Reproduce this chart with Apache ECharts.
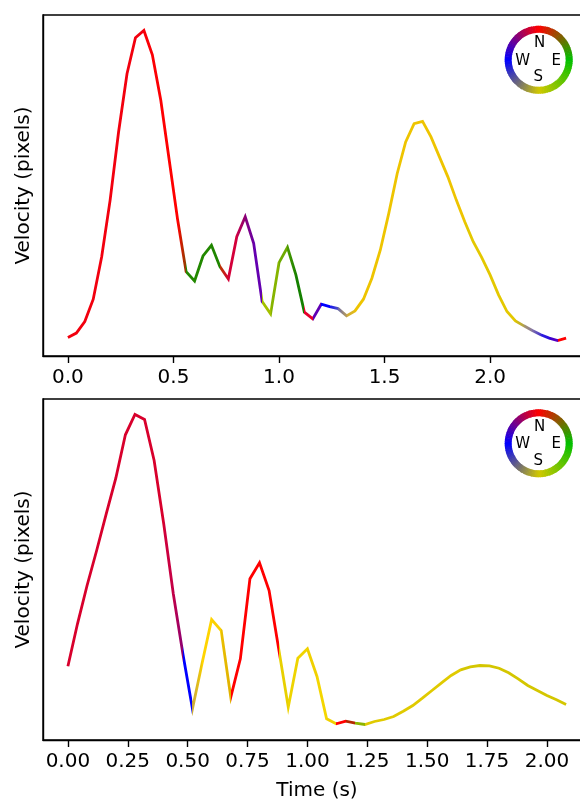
<!DOCTYPE html>
<html>
<head>
<meta charset="utf-8">
<script src="https://cdn.jsdelivr.net/npm/echarts@6.0.0/dist/echarts.min.js"></script>
<style>
html,body{margin:0;padding:0;background:#fff;}
#c{width:580px;height:803px;}
</style>
</head>
<body>
<div id="c"></div>
<script>
// ---------------- DATA ----------------
const topTime = [0,0.04,0.08,0.12,0.16,0.2,0.24,0.28,0.32,0.36,0.4,0.44,0.48,0.52,0.56,0.6,0.64,0.68,0.72,0.76,0.8,0.84,0.88,0.92,0.96,1,1.04,1.08,1.12,1.16,1.2,1.24,1.28,1.32,1.36,1.4,1.44,1.48,1.52,1.56,1.6,1.64,1.68,1.72,1.76,1.8,1.84,1.88,1.92,1.96,2,2.04,2.08,2.12,2.16,2.2,2.24,2.28,2.32,2.36];
const topVel = [18.3,22.7,34.3,56.7,99.3,156,224.3,282.7,318.7,326,
                301.7,256,196,136,84.3,75,100,110.7,89.3,77,
                119.3,139.3,112.7,54.3,42,93.3,108.7,81,43.7,37,
                51.7,49.3,47.3,40,45,56.7,77.7,106,142.7,182.7,
                214.3,232.7,235,219.3,199.3,179.3,156,134.3,114.3,98.7,
                81,61,44.3,35,30,25.3,21,17.7,15.3,17.7];
// colour of each segment (direction of motion); a pair = colour fading along the segment
const topSegColors = [
  '#f2000e','#f2000e','#f2000e','#f2000e','#f2000e','#f2000e','#f2000e','#f2000e','#f2000e',
  '#fa0006','#fc0004','#fe0002','#ff0000',
  ['#ff0000','#8a4200'],
  '#228800','#228800','#228800','#1f8500',
  ['#b83800','#d40030'],
  '#d4003a',
  ['#c8004a','#8c0070'],
  ['#880078','#6a00a4'],
  '#6400b0',
  '#a4c000','#86b400','#6eaa00',
  ['#4c9a00','#1c8200'],
  '#148000',
  '#e4002c',
  '#6000b4',
  '#0000ff',
  ['#1010f4','#5050c0'],
  ['#6a6aa8','#b89c58'],
  ['#ccaa40','#e4bc14'],
  '#eec400','#eec400','#eec400','#eec400','#eec400','#eec400','#eec400','#eec400','#eec400','#eec400','#eec400','#eec400','#eec400',
  '#e4c800','#e4c800','#e4c800','#e4c800','#e4c800','#e4c800',
  ['#dcc400','#b0a050'],
  ['#a89868','#8878a0'],
  ['#8070a8','#4434cc'],
  ['#3020e0','#2810dc'],
  ['#3000d8','#6000b8'],
  '#ff0000'
];

const botTime = [0,0.04,0.08,0.12,0.16,0.2,0.24,0.28,0.32,0.36,0.4,0.44,0.48,0.52,0.56,0.6,0.64,0.68,0.72,0.76,0.8,0.84,0.88,0.92,0.96,1,1.04,1.08,1.12,1.16,1.2,1.24,1.28,1.32,1.36,1.4,1.44,1.48,1.52,1.56,1.6,1.64,1.68,1.72,1.76,1.8,1.84,1.88,1.92,1.96,2,2.04,2.08];
const botVel = [74.3,116.7,155,190,226.7,262.3,305.7,326,321,280,
                216.7,146.7,86.7,31.7,77,121,110,43.3,81.7,161.7,
                177.7,150,91.7,33.3,82.3,91.7,64,21.7,16.7,19.3,
                17.3,16,19,21,24,29.3,35,42.3,50,57.7,
                65,70.7,73.7,75,74.7,72.3,67.7,61.7,55,50,
                45,40.7,36];
const botSegColors = [
  '#d8002c','#d8002c','#d8002c','#d8002c','#d8002c','#d8002c','#d8002c','#d8002c','#d8002c','#d8002c',
  ['#d0003a','#c40046'],
  ['#c00048','#8c0074'],
  '#0000ff',
  ['#c8a840','#f4cc00'],
  '#ffd400','#fad000',
  ['#eac000','#e0b000'],
  '#ff0000','#ff0000','#ff0000','#ff0000','#ff0000',
  '#e8d000','#eed400','#f0d400','#f0d000','#f4d600','#f0d000',
  '#ff0000',
  '#b42800',
  '#8cb400',
  '#e0ca00','#e0ca00','#e0ca00','#e0ca00','#e0ca00','#e0ca00','#e0ca00','#e0ca00','#e0ca00','#e0ca00',
  '#d4c600','#d4c600','#d4c600','#d4c600','#d4c600','#d4c600','#d4c600','#d4c600','#d4c600','#d4c600','#d4c600'
];

const topTickValues = [0, 0.5, 1, 1.5, 2];
const topTickLabels = ['0.0','0.5','1.0','1.5','2.0'];
const botTickValues = [0, 0.25, 0.5, 0.75, 1, 1.25, 1.5, 1.75, 2];
const botTickLabels = ['0.00','0.25','0.50','0.75','1.00','1.25','1.50','1.75','2.00'];
const yLabel = 'Velocity (pixels)';
const xLabel = 'Time (s)';
const compassLetters = ['N','E','S','W'];
const compassColors = ['#ff0000','#00c000','#d0c800','#0000ff']; // N, E, S, W

// ---------------- CHART ----------------
const FONT = '"DejaVu Sans", sans-serif';
const FS = 20;
const chart = echarts.init(document.getElementById('c'), null, {renderer:'canvas'});

function pad(arr){
  const lo = Math.min(...arr), hi = Math.max(...arr), m = 0.05*(hi-lo);
  return [lo-m, hi+m];
}

const grids = [
  {left:43, top:15, width:548, height:341},
  {left:43, top:399, width:548, height:341}
];

function xAxisCfg(gi, time, ticks, labels){
  const r = pad(time);
  return {
    type:'value', gridIndex:gi, min:r[0], max:r[1],
    axisLine:{show:true, onZero:false, lineStyle:{color:'#000', width:1.4}},
    axisTick:{show:true, customValues:ticks, length:7, lineStyle:{color:'#000', width:1.4}},
    axisLabel:{show:true, customValues:ticks, margin:11.5, fontSize:FS, fontFamily:FONT, color:'#000',
      formatter: function(v){ const i = ticks.findIndex(t => Math.abs(t-v) < 1e-9); return i >= 0 ? labels[i] : ''; }},
    splitLine:{show:false}
  };
}
function yAxisCfg(gi, vel){
  const r = pad(vel);
  return {
    type:'value', gridIndex:gi, min:r[0], max:r[1],
    axisLine:{show:true, onZero:false, lineStyle:{color:'#000', width:1.4}},
    axisTick:{show:false}, axisLabel:{show:false}, splitLine:{show:false}
  };
}
function seriesCfg(gi, time, vel){
  return {
    type:'line', xAxisIndex:gi, yAxisIndex:gi,
    data: time.map((t,i)=>[t, vel[i]]),
    symbol:'none', showSymbol:false, animation:false,
    lineStyle:{width:2.8, color:'#f00', cap:'butt', join:'miter'}
  };
}

function sectorsFor(cx, cy){
  const els = [];
  const step = 3;
  function hex(c){ return [parseInt(c.slice(1,3),16), parseInt(c.slice(3,5),16), parseInt(c.slice(5,7),16)]; }
  const anchors = compassColors.map(hex);
  for (let a = 0; a < 360; a += step){
    const bearing = a + step/2;              // 0 = N, clockwise
    const k = Math.floor(bearing/90) % 4, f = (bearing % 90)/90;
    const c0 = anchors[k], c1 = anchors[(k+1)%4];
    const col = 'rgb(' + [0,1,2].map(j => Math.round(c0[j]*(1-f)+c1[j]*f)).join(',') + ')';
    const screenA = (a - 90) * Math.PI/180;
    els.push({type:'sector', silent:true,
      shape:{cx:cx, cy:cy, r0:27, r:34, startAngle:screenA - 0.01, endAngle:screenA + step*Math.PI/180 + 0.01},
      style:{fill:col}});
  }
  const off = [[1,-16.5],[17.5,1],[-0.5,17.5],[-16,1]];
  compassLetters.forEach((L,i)=>{
    els.push({type:'text', silent:true, x:cx+off[i][0], y:cy+off[i][1],
      style:{text:L, fontSize:15, fontFamily:FONT, fill:'#000', align:'center', verticalAlign:'middle'}});
  });
  return els;
}

const graphics = [].concat(
  sectorsFor(538.7, 59.8),
  sectorsFor(538.7, 443.3),
  [
    {type:'text', x:23.5, y:185.5, rotation:Math.PI/2, silent:true,
     style:{text:yLabel, fontSize:FS, fontFamily:FONT, fill:'#000', align:'center', verticalAlign:'middle'}},
    {type:'text', x:23.5, y:569.5, rotation:Math.PI/2, silent:true,
     style:{text:yLabel, fontSize:FS, fontFamily:FONT, fill:'#000', align:'center', verticalAlign:'middle'}},
    {type:'text', x:317, y:791, silent:true,
     style:{text:xLabel, fontSize:FS, fontFamily:FONT, fill:'#000', align:'center', verticalAlign:'middle'}}
  ]
);

const option = {
  animation:false,
  backgroundColor:'#fff',
  grid: grids.map(g => Object.assign({show:true, borderColor:'#000', borderWidth:1.4, backgroundColor:'transparent', containLabel:false, outerBoundsMode:'none'}, g)),
  xAxis: [xAxisCfg(0, topTime, topTickValues, topTickLabels), xAxisCfg(1, botTime, botTickValues, botTickLabels)],
  yAxis: [yAxisCfg(0, topVel), yAxisCfg(1, botVel)],
  series: [seriesCfg(0, topTime, topVel), seriesCfg(1, botTime, botVel)],
  graphic: graphics
};
chart.setOption(option);

function gradientFor(gi, time, segs){
  const x0 = chart.convertToPixel({xAxisIndex:gi}, time[0]);
  const x1 = chart.convertToPixel({xAxisIndex:gi}, time[time.length-1]);
  const span = time[time.length-1] - time[0];
  const stops = [];
  segs.forEach((c,i)=>{
    const a = (time[i]-time[0])/span, b = (time[i+1]-time[0])/span;
    const c1 = Array.isArray(c) ? c[0] : c, c2 = Array.isArray(c) ? c[1] : c;
    stops.push({offset:a, color:c1}, {offset:b, color:c2});
  });
  return {type:'linear', x:x0, y:0, x2:x1, y2:0, global:true, colorStops:stops};
}
chart.setOption({
  series:[
    {lineStyle:{color: gradientFor(0, topTime, topSegColors)}},
    {lineStyle:{color: gradientFor(1, botTime, botSegColors)}}
  ]
});
</script>
</body>
</html>
